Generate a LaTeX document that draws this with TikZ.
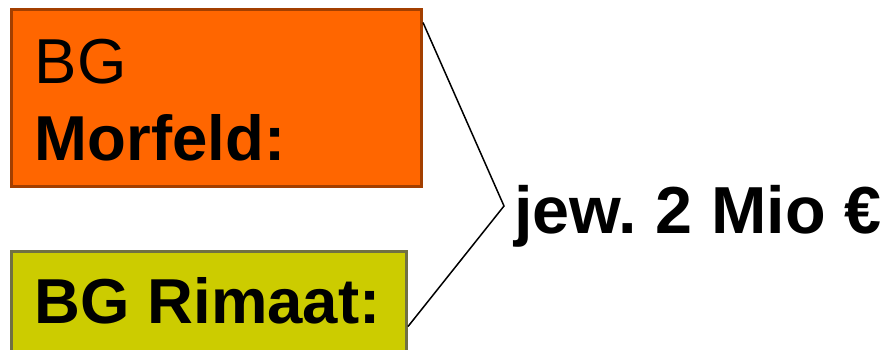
\documentclass[tikz,border=0pt]{standalone}
\usepackage{fontspec}
\setmainfont{Liberation Sans}
\usetikzlibrary{calc}
\frenchspacing
\definecolor{orangefill}{HTML}{FF6600}
\definecolor{orangeline}{HTML}{A33F00}
\definecolor{yellowfill}{HTML}{CCCC00}
\definecolor{yellowline}{HTML}{717142}
\tikzset{
  box/.style={draw, line width=3pt, inner sep=0pt, rectangle},
  lbl/.style={inner sep=0pt, anchor=base west, text=black},
  conn/.style={draw=black, line width=1.5pt, line join=miter}
}
\begin{document}
\begin{tikzpicture}[x=1pt,y=-1pt]
\useasboundingbox (0,0) rectangle (882,349);
\clip (0,0) rectangle (882,349);
\node[box, fill=orangefill, draw=orangeline, minimum width=410pt, minimum height=177pt] (top) at (216.5,98) {};
\node[box, fill=yellowfill, draw=yellowline, minimum width=395pt, minimum height=140pt] (bot) at (209,321.5) {};
\node[lbl, font=\fontsize{63.5}{77}\selectfont] (t1) at (34.5,83) {BG};
\node[lbl, font=\fontsize{63.5}{77}\selectfont\bfseries] (t2) at (34.5,160) {Morfeld:};
\node[lbl, font=\fontsize{63.5}{77}\selectfont\bfseries] (t3) at (34.5,323) {BG Rimaat:};
\node[lbl, font=\fontsize{66.5}{78}\selectfont\bfseries] (t4) at (514,233) {jew. 2 Mio €};
\coordinate (apex) at (504,206);
\draw[conn] ($(top.north east)+(0,14.5)$) -- (apex) -- ($(bot.north east)+(0,76.5)$);
\end{tikzpicture}
\end{document}
